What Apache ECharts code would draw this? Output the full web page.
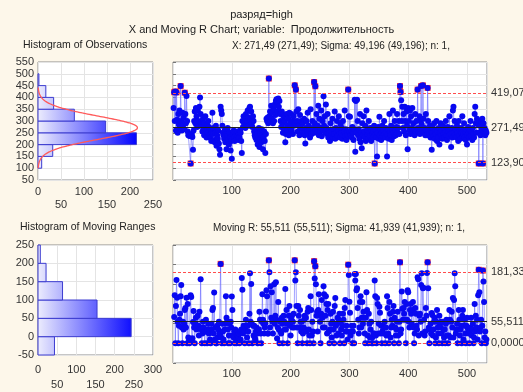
<!DOCTYPE html>
<html>
<head>
<meta charset="utf-8">
<script src="https://cdn.jsdelivr.net/npm/echarts@6/dist/echarts.min.js"></script>
<style>
html, body { margin: 0; padding: 0; background: #fdf7ea; }
#main { width: 523px; height: 392px; }
</style>
</head>
<body>
<div id="main"></div>
<script>
const chart = echarts.init(document.getElementById('main'))
const font = 'Liberation Sans, Arial, sans-serif'

// X chart: observations, samples 1..533
const xMean = 271.49
const xSigma = 49.196
const xLimits = [419.07, 271.49, 123.90]
const xLimitLabels = ['419,07', '271,49', '123,90']
const obsValues = [
  355, 422, 300, 425, 260, 421, 305, 250, 330, 285, 345, 270, 448, 300, 260, 335, 280, 315, 265, 420,
  330, 290, 406, 300, 255, 240, 244, 236, 242, 120, 238, 245, 232, 178, 260, 300, 340, 290, 355, 320,
  275, 345, 300, 280, 360, 400, 330, 295, 280, 255, 310, 270, 240, 290, 320, 260, 230, 285, 250, 300,
  275, 240, 230, 265, 215, 250, 335, 245, 270, 220, 210, 250, 280, 195, 240, 225, 260, 205, 180, 157,
  360, 345, 330, 280, 250, 240, 225, 260, 210, 245, 180, 235, 270, 220, 200, 250, 230, 175, 215, 140,
  225, 245, 260, 230, 215, 250, 240, 225, 255, 235, 220, 245, 230, 260, 250, 215, 164, 300, 275, 320,
  290, 310, 270, 330, 285, 300, 345, 315, 280, 355, 360, 305, 340, 290, 275, 320, 300, 255, 240, 230,
  260, 220, 245, 200, 235, 270, 190, 250, 225, 210, 265, 240, 180, 230, 255, 215, 164, 245, 310, 300,
  315, 290, 480, 320, 340, 300, 365, 310, 335, 290, 350, 300, 370, 325, 385, 392, 380, 340, 395, 360,
  385, 330, 300, 275, 340, 290, 250, 320, 265, 300, 210, 245, 330, 280, 260, 310, 240, 335, 290, 270,
  330, 260, 300, 245, 320, 280, 451, 290, 433, 340, 300, 255, 350, 280, 240, 325, 270, 300, 245, 265,
  290, 250, 310, 240, 205, 270, 300, 255, 335, 245, 280, 260, 230, 350, 265, 245, 300, 270, 250, 465,
  290, 447, 260, 330, 250, 280, 365, 240, 310, 255, 270, 345, 235, 300, 260, 405, 280, 320, 250, 370,
  270, 245, 330, 230, 260, 250, 215, 290, 240, 255, 310, 230, 265, 245, 340, 225, 270, 250, 300, 235,
  260, 320, 245, 230, 285, 250, 270, 225, 300, 240, 255, 345, 235, 265, 220, 250, 240, 433, 320, 255,
  318, 240, 260, 230, 275, 250, 220, 265, 390, 170, 385, 250, 390, 300, 240, 265, 225, 330, 210, 250,
  185, 290, 240, 320, 255, 230, 280, 215, 345, 260, 240, 225, 300, 250, 235, 270, 215, 260, 245, 230,
  255, 280, 120, 240, 260, 230, 150, 250, 275, 225, 318, 240, 265, 220, 250, 280, 235, 260, 300, 245,
  230, 270, 250, 150, 240, 265, 225, 330, 255, 240, 280, 220, 265, 345, 250, 235, 300, 260, 240, 275,
  330, 250, 270, 300, 245, 448, 423, 388, 300, 360, 270, 330, 255, 360, 300, 240, 340, 280, 180, 355,
  300, 260, 345, 245, 320, 270, 355, 250, 290, 265, 240, 330, 255, 300, 265, 433, 270, 250, 320, 245,
  300, 448, 285, 260, 451, 310, 250, 270, 240, 330, 260, 240, 440, 300, 260, 245, 280, 230, 255, 178,
  250, 270, 235, 290, 225, 260, 245, 300, 215, 255, 230, 270, 200, 250, 290, 235, 260, 225, 280, 245,
  230, 265, 250, 300, 240, 220, 275, 255, 235, 320, 260, 245, 190, 270, 230, 345, 360, 250, 300, 240,
  265, 230, 280, 250, 215, 300, 240, 260, 225, 270, 250, 320, 235, 245, 290, 230, 255, 220, 265, 200,
  240, 275, 250, 230, 260, 300, 235, 255, 220, 270, 245, 230, 330, 360, 290, 250, 310, 300, 285, 120,
  250, 280, 240, 300, 265, 310, 120, 290, 255, 270, 240, 260, 250
]

// Moving R chart: samples 2..533
const mrLimits = [181.33, 55.511, 0]
const mrLimitLabels = ['181,33', '55,511', '0,0000']
const mrValues = [
  67, 122, 0, 95, 161, 116, 55, 0, 45, 60, 75, 120, 148, 40, 0, 55, 35, 50, 85, 90,
  40, 116, 0, 100, 15, 4, 0, 6, 122, 118, 7, 13, 54, 82, 40, 0, 50, 65, 35, 45,
  70, 45, 20, 80, 40, 163, 35, 0, 25, 55, 40, 30, 0, 30, 60, 30, 0, 35, 50, 25,
  35, 10, 0, 50, 35, 85, 90, 25, 129, 10, 40, 0, 0, 45, 15, 35, 55, 25, 23, 202,
  15, 0, 50, 30, 10, 0, 35, 50, 120, 65, 55, 35, 0, 20, 50, 0, 55, 40, 119, 85,
  20, 15, 30, 0, 35, 10, 0, 30, 20, 15, 25, 0, 30, 10, 35, 166, 136, 25, 45, 30,
  0, 40, 60, 45, 15, 45, 30, 0, 75, 178, 55, 151, 50, 0, 45, 20, 45, 15, 10, 30,
  40, 25, 0, 35, 35, 80, 60, 25, 0, 55, 125, 60, 50, 25, 40, 51, 81, 135, 120, 25,
  25, 211, 181, 40, 145, 65, 130, 55, 25, 60, 150, 50, 70, 155, 60, 12, 40, 105, 35, 0,
  55, 30, 25, 65, 50, 0, 70, 55, 35, 138, 35, 85, 50, 0, 50, 70, 95, 45, 20, 60,
  70, 40, 55, 75, 40, 211, 160, 181, 95, 40, 0, 95, 70, 40, 85, 55, 30, 55, 0, 25,
  40, 60, 70, 35, 65, 30, 0, 80, 90, 35, 20, 0, 120, 85, 20, 55, 30, 0, 209, 165,
  196, 150, 70, 80, 30, 85, 125, 70, 55, 0, 75, 110, 65, 40, 145, 125, 40, 70, 120, 100,
  25, 85, 100, 30, 0, 35, 75, 50, 15, 55, 80, 35, 0, 95, 115, 45, 20, 50, 65, 25,
  60, 75, 0, 55, 35, 20, 45, 75, 60, 0, 90, 110, 30, 45, 30, 10, 200, 174, 106, 78,
  20, 30, 45, 0, 30, 45, 0, 176, 160, 176, 135, 140, 90, 60, 25, 40, 105, 120, 40, 65,
  105, 50, 80, 65, 25, 0, 65, 130, 85, 20, 0, 75, 50, 15, 35, 55, 0, 15, 0, 25,
  25, 160, 120, 20, 0, 115, 100, 25, 50, 93, 78, 25, 45, 0, 30, 45, 25, 40, 55, 0,
  40, 20, 120, 90, 25, 0, 105, 75, 15, 40, 60, 45, 80, 95, 0, 65, 40, 20, 35, 55,
  80, 20, 0, 55, 206, 25, 35, 132, 88, 60, 90, 75, 105, 60, 0, 100, 60, 135, 130, 55,
  40, 85, 100, 75, 50, 85, 105, 40, 0, 25, 90, 75, 45, 35, 168, 163, 20, 70, 75, 55,
  148, 178, 25, 140, 141, 60, 20, 30, 90, 70, 179, 206, 140, 40, 0, 35, 50, 25, 77, 72,
  20, 35, 55, 65, 0, 15, 55, 85, 40, 25, 0, 70, 50, 40, 55, 25, 0, 55, 35, 15,
  35, 0, 50, 60, 20, 55, 0, 20, 85, 60, 15, 55, 80, 40, 115, 15, 110, 178, 145, 25,
  35, 50, 0, 35, 85, 60, 20, 35, 45, 0, 70, 85, 10, 45, 60, 25, 0, 45, 65, 40,
  35, 25, 0, 30, 40, 65, 20, 35, 50, 0, 15, 100, 30, 70, 40, 60, 10, 122, 187, 130,
  30, 40, 60, 0, 45, 185, 157, 105, 15, 30, 0, 10
]

// histograms (lower edge of each bin, width 50)
const binWidth = 50
const obsBinLow = [100, 150, 200, 250, 300, 350, 400, 450]
const obsCounts = [8, 32, 214, 147, 79, 34, 17, 2]
const mrBinLow = [-50, 0, 50, 100, 150, 200]
const mrCounts = [43, 243, 154, 64, 21, 6]

// fitted normal curve over the observation histogram
const nObs = obsValues.length
const curveScale = nObs * binWidth / (xSigma * Math.sqrt(2 * Math.PI))
const normalCurve = []
for (let y = 100; y <= 442; y += 3) {
  const z = (y - xMean) / xSigma
  normalCurve.push([curveScale * Math.exp(-0.5 * z * z), y])
}

const barFill = new echarts.graphic.LinearGradient(38, 0, 138, 0, [
  { offset: 0, color: '#ececfd' },
  { offset: 1, color: '#0000ff' }
], true)

function histRect(params, api) {
  const lo = api.value(0)
  const cnt = api.value(1)
  const p0 = api.coord([0, lo + binWidth])
  const p1 = api.coord([cnt, lo])
  return {
    type: 'rect',
    shape: { x: p0[0], y: p0[1], width: p1[0] - p0[0], height: p1[1] - p0[1] },
    style: { fill: barFill, stroke: '#3c3cd0', lineWidth: 1 }
  }
}

const gridLine = { show: true, lineStyle: { color: '#e4e4e4', width: 1 } }
const labelStyle = { color: '#333', fontSize: 11, fontFamily: font }

function histXAxis(idx, max, lh, margin) {
  return {
    type: 'value', gridIndex: idx, min: 0, max: max, interval: 50,
    axisLine: { show: false }, axisTick: { show: false }, splitLine: gridLine,
    axisLabel: Object.assign({}, labelStyle, {
      margin: margin, lineHeight: lh,
      formatter: v => (v % 100 === 0 ? String(v) : '\n' + v)
    })
  }
}
function chartXAxis(idx) {
  return {
    type: 'value', gridIndex: idx, min: 0, max: 534, interval: 100,
    axisLine: { show: false }, axisTick: { show: false }, splitLine: gridLine,
    axisLabel: Object.assign({}, labelStyle, { margin: 5, showMinLabel: false, showMaxLabel: false })
  }
}
function yAx(idx, min, max, labels) {
  return {
    type: 'value', gridIndex: idx, min: min, max: max, interval: 50,
    axisLine: { show: false },
    axisTick: { show: !labels, inside: true, length: 3, lineStyle: { color: '#777' } },
    splitLine: gridLine,
    axisLabel: Object.assign({}, labelStyle, { show: labels, margin: 4 })
  }
}

function limitLines(limits, labels) {
  return {
    symbol: 'none', silent: true, animation: false,
    label: { position: 'end', distance: 4, color: '#333', fontSize: 11, fontFamily: font },
    data: limits.map((v, k) => ({
      yAxis: v,
      lineStyle: k === 1
        ? { color: '#222', type: 'solid', width: 1 }
        : { color: '#ff4d4d', type: [3, 2], width: 1 },
      label: { formatter: labels[k] }
    }))
  }
}

function outOf(points, limits) {
  return points.filter(p => p[1] > limits[0] || p[1] < limits[2])
}

const obsPoints = obsValues.map((v, i) => [i + 1, v])
const mrPoints = mrValues.map((v, i) => [i + 2, v])

const titleText = { fontSize: 11, fontWeight: 'normal', color: '#222', fontFamily: font }
const subText = Object.assign({}, titleText, { fontSize: 10.5 })
const statText = Object.assign({}, titleText, { fontSize: 10 })

const option = {
  backgroundColor: '#fdf7ea',
  animation: false,
  title: [
    { text: 'разряд=high', left: 'center', top: 4, textStyle: titleText },
    { text: 'X and Moving R Chart; variable:  Продолжительность', left: 'center', top: 19, textStyle: titleText },
    { text: 'Histogram of Observations', left: 18, top: 35, textStyle: subText },
    { text: 'X: 271,49 (271,49); Sigma: 49,196 (49,196); n: 1,', left: 227, top: 36, textStyle: statText },
    { text: 'Histogram of Moving Ranges', left: 15, top: 217, textStyle: subText },
    { text: 'Moving R: 55,511 (55,511); Sigma: 41,939 (41,939); n: 1,', left: 208, top: 218, textStyle: statText }
  ],
  grid: [
    { left: 38, top: 62, width: 115, height: 118 },
    { left: 173, top: 62, width: 314, height: 118 },
    { left: 38, top: 245, width: 115, height: 117 },
    { left: 173, top: 245, width: 314, height: 118 }
  ].map(g => Object.assign(g, { show: true, backgroundColor: '#fff', borderColor: '#8c8c8c', borderWidth: 1 })),
  xAxis: [histXAxis(0, 250, 13, 5), chartXAxis(1), histXAxis(2, 300, 15, 7), chartXAxis(3)],
  yAxis: [yAx(0, 50, 550, true), yAx(1, 50, 550, false), yAx(2, -50, 250, true), yAx(3, -50, 250, false)],
  series: [
    {
      type: 'custom', xAxisIndex: 0, yAxisIndex: 0, renderItem: histRect,
      encode: { x: 1, y: 0 },
      data: obsBinLow.map((b, i) => [b, obsCounts[i]])
    },
    {
      type: 'line', xAxisIndex: 0, yAxisIndex: 0, data: normalCurve, smooth: true,
      symbol: 'none', lineStyle: { color: '#ff5a5a', width: 1.3 }
    },
    {
      type: 'line', xAxisIndex: 1, yAxisIndex: 1, data: obsPoints,
      symbol: 'circle', symbolSize: 6,
      lineStyle: { color: 'rgba(100,100,255,0.6)', width: 1 },
      itemStyle: { color: '#0808f0' },
      markLine: limitLines(xLimits, xLimitLabels)
    },
    {
      type: 'scatter', xAxisIndex: 1, yAxisIndex: 1, data: outOf(obsPoints, xLimits),
      symbol: 'rect', symbolSize: 6, itemStyle: { color: '#ff0000' }
    },
    {
      type: 'custom', xAxisIndex: 2, yAxisIndex: 2, renderItem: histRect,
      encode: { x: 1, y: 0 },
      data: mrBinLow.map((b, i) => [b, mrCounts[i]])
    },
    {
      type: 'line', xAxisIndex: 3, yAxisIndex: 3, data: mrPoints,
      symbol: 'circle', symbolSize: 6,
      lineStyle: { color: 'rgba(100,100,255,0.6)', width: 1 },
      itemStyle: { color: '#0808f0' },
      markLine: limitLines(mrLimits, mrLimitLabels)
    },
    {
      type: 'scatter', xAxisIndex: 3, yAxisIndex: 3, data: outOf(mrPoints, mrLimits),
      symbol: 'rect', symbolSize: 6, itemStyle: { color: '#ff0000' }
    }
  ]
}

chart.setOption(option)
</script>
</body>
</html>
